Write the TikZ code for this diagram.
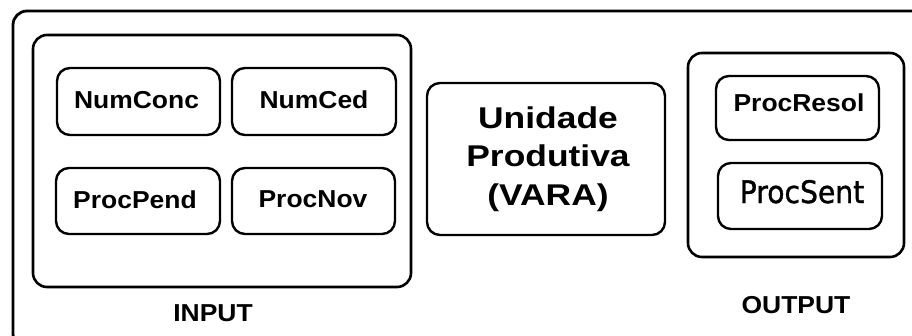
\documentclass[tikz,border=0pt]{standalone}
\usepackage{fontspec}
\usepackage{graphicx}
\setmainfont{Liberation Sans}
\newfontfamily\dvsans{DejaVu Sans}[FakeBold=1.2]
\newcommand\hstretch[2]{\scalebox{#1}[1]{#2}}
\tikzset{
  frame/.style={draw=black, line width=2.6pt, rounded corners=14pt},
  item/.style={draw=black, line width=2.4pt, rounded corners=13pt, inner sep=0pt},
  lbl/.style={font=\fontsize{24.5}{28}\selectfont\bfseries, inner sep=0pt},
}
\begin{document}
\begin{tikzpicture}[x=1pt,y=-1pt]
\useasboundingbox (0,0) rectangle (912,335);
\fill[white] (0,0) rectangle (912,335);
% outer frame (extends beyond the picture on the right and bottom)
\draw[frame, line width=2.8pt] (13,11) rectangle (930,348);
% input group
\node[frame, minimum width=378pt, minimum height=252pt] (input) at (222,161) {};
\node[item, minimum width=163pt, minimum height=67pt] (numconc) at (138.5,101.5) {};
\node[lbl] at (136.5,100) {\hstretch{1.08}{NumConc}};
\node[item, minimum width=164pt, minimum height=67pt] (numced) at (314,101.5) {};
\node[lbl] at (314,100) {\hstretch{1.08}{NumCed}};
\node[item, minimum width=164pt, minimum height=66pt] (procpend) at (138,201) {};
\node[lbl] at (135,200) {\hstretch{1.08}{ProcPend}};
\node[item, minimum width=163pt, minimum height=66pt] (procnov) at (313.5,201) {};
\node[lbl] at (313,199) {\hstretch{1.08}{ProcNov}};
\node[lbl] (inputlbl) at (213,313) {\hstretch{1.08}{INPUT}};
% central unit
\node[item, minimum width=238pt, minimum height=152pt] (vara) at (546,159) {};
\node[font=\fontsize{30}{38.5}\selectfont\bfseries, inner sep=0pt] (varatxt) at (548,159)
  {\hstretch{1.18}{\begin{tabular}{@{}c@{}}Unidade\\Produtiva\\(VARA)\end{tabular}}};
% output group
\node[frame, minimum width=216pt, minimum height=204pt] (output) at (796,155) {};
\node[item, minimum width=163pt, minimum height=64pt] (procresol) at (797.5,108) {};
\node[lbl] at (799,103) {\hstretch{1.08}{ProcResol}};
\node[item, minimum width=164pt, minimum height=66pt] (procsent) at (800,196) {};
\node[font=\fontsize{31}{34}\dvsans, inner sep=0pt, anchor=base] at (802,203) {\hstretch{0.91}{ProcSent}};
\node[lbl] (outputlbl) at (796,305) {\hstretch{1.08}{OUTPUT}};
\end{tikzpicture}
\end{document}
